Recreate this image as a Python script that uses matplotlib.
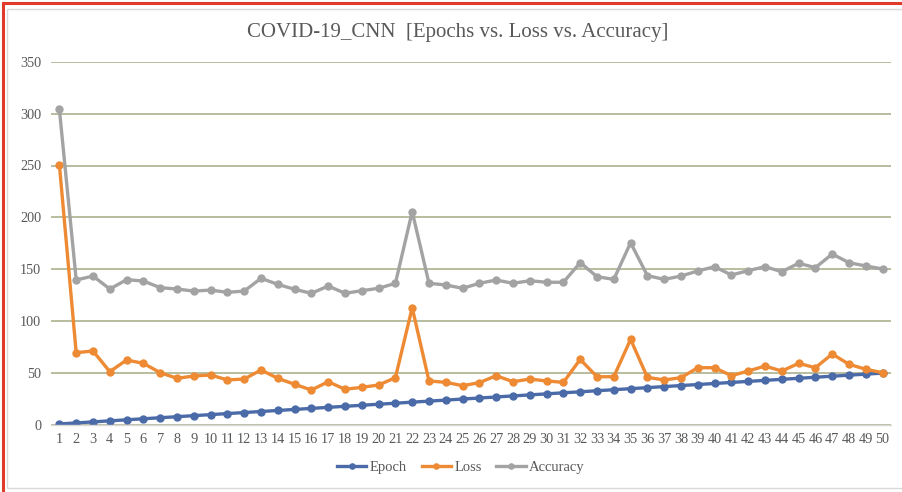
import matplotlib
matplotlib.use("Agg")
import matplotlib.pyplot as plt
from matplotlib.patches import Rectangle

epochs = list(range(1, 51))

epoch_values = list(range(1, 51))

loss_values = [
    250.5, 69.7, 71.3, 51.4, 62.6, 59.4, 50.4, 45.0, 47.2, 48.2,
    43.4, 44.3, 53.0, 45.0, 39.2, 33.7, 41.7, 34.4, 36.3, 38.5,
    45.6, 113.0, 42.4, 41.1, 37.9, 40.8, 47.5, 41.7, 44.3, 42.4,
    41.1, 63.2, 46.5, 46.5, 82.5, 45.9, 43.4, 45.6, 55.2, 55.2,
    47.5, 52.0, 56.8, 52.0, 59.4, 55.2, 68.4, 58.5, 53.7, 50.4,
]

accuracy_values = [
    304.0, 139.7, 143.5, 131.0, 140.0, 138.7, 132.3, 131.0, 129.0, 130.0,
    127.8, 129.0, 141.3, 135.5, 130.7, 126.9, 133.9, 126.9, 129.4, 131.7,
    136.5, 205.5, 136.5, 134.9, 131.7, 136.5, 139.7, 136.5, 139.0, 137.5,
    137.5, 156.4, 142.9, 140.3, 175.6, 143.9, 140.3, 143.5, 148.4, 152.5,
    144.5, 148.7, 152.5, 147.7, 155.8, 151.6, 164.7, 156.4, 153.2, 150.3,
]

y_ticks = [0, 50, 100, 150, 200, 250, 300, 350]

series = [
    ("Epoch", epoch_values, "#4a6aa8"),
    ("Loss", loss_values, "#ed8a33"),
    ("Accuracy", accuracy_values, "#a3a3a3"),
]

plt.rcParams["font.family"] = ["Liberation Serif", "DejaVu Serif"]

fig = plt.figure(figsize=(9.02, 4.92), dpi=100)
fig.patch.set_facecolor("white")

# outer red frame and inner light chart border
fig.add_artist(Rectangle((2.5 / 902, -0.01), 1.1, 1 - 3.0 / 492 + 0.01,
                         transform=fig.transFigure, fill=False,
                         edgecolor="#e03a2a", linewidth=2.2))
fig.add_artist(Rectangle((7.5 / 902, 1 - 487.5 / 492), 1.1, (487.5 - 8.5) / 492,
                         transform=fig.transFigure, fill=False,
                         edgecolor="#d9d9d9", linewidth=1.0))

left, right = 51 / 902, 891 / 902
bottom, top = 1 - 425 / 492, 1 - 61.7 / 492
ax = fig.add_axes([left, bottom, right - left, top - bottom])

for name, vals, color in series:
    ax.plot(epochs, vals, color=color, linewidth=2.4, marker="o",
            markersize=5, label=name, solid_joinstyle="round")

ax.set_xlim(0.5, 50.5)
ax.set_ylim(0, 350)
ax.set_yticks(y_ticks)
ax.set_xticks(epochs)
ax.set_xticklabels([str(e) for e in epochs])

ax.grid(axis="y", color="#b3b896", linewidth=1.3)
ax.set_axisbelow(True)
for side in ["top", "right", "left"]:
    ax.spines[side].set_visible(False)
ax.spines["bottom"].set_color("#d9d9d9")
ax.spines["bottom"].set_linewidth(1.0)
ax.tick_params(axis="both", length=0, colors="#595959", labelsize=10.3)
ax.tick_params(axis="y", pad=7)
ax.tick_params(axis="x", pad=6)

fig.text(458 / 902, 1 - 32 / 492, "COVID-19_CNN  [Epochs vs. Loss vs. Accuracy]",
         ha="center", va="center", fontsize=15, color="#595959")

leg = fig.legend(loc="center", bbox_to_anchor=(461 / 902, 1 - 467 / 492),
                 ncol=3, frameon=False, fontsize=10.5, handlelength=2.0,
                 columnspacing=1.0, handletextpad=0.25, markerscale=0.75)
for text in leg.get_texts():
    text.set_color("#595959")

fig.savefig("out.png", dpi=100, facecolor="white")
